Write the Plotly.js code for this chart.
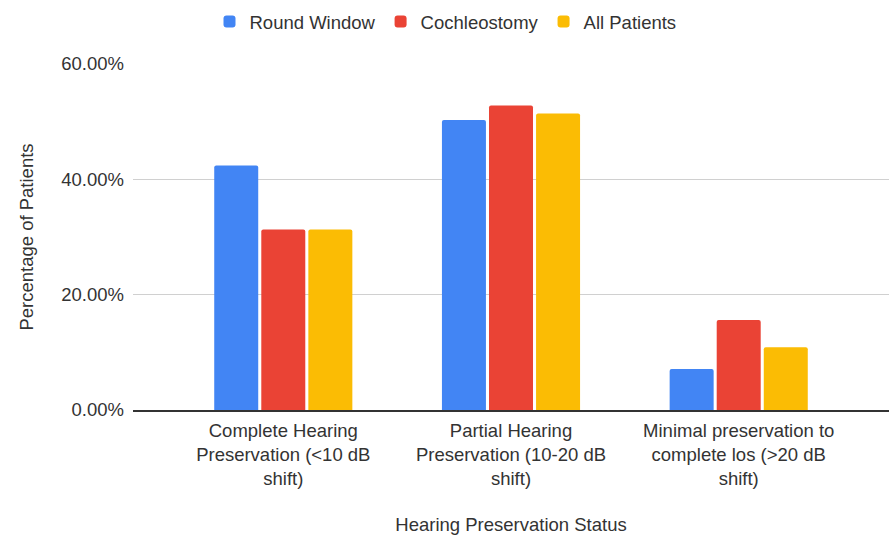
<!DOCTYPE html>
<html>
<head>
<meta charset="utf-8">
<script src="https://cdn.plot.ly/plotly-3.0.1.min.js"></script>
<style>html,body{margin:0;padding:0;background:#fff;}#chart{width:891px;height:535px;}</style>
</head>
<body>
<div id="chart"></div>
<script>
const categories = [
  "Complete Hearing<br>Preservation (&lt;10 dB<br>shift)",
  "Partial Hearing<br>Preservation (10-20 dB<br>shift)",
  "Minimal preservation to<br>complete los (&gt;20 dB<br>shift)"
];
const seriesNames = ["Round Window", "Cochleostomy", "All Patients"];
const roundWindow = [42.4, 50.3, 7.1];
const cochleostomy = [31.3, 52.8, 15.6];
const allPatients = [31.3, 51.4, 10.9];
const yTicks = [0, 20, 40, 60];
const yTickText = ["0.00%", "20.00%", "40.00%", "60.00%"];
const colors = ["#4285F4", "#EA4335", "#FBBC04"];

const font = "Arial, 'Liberation Sans', sans-serif";
const series = [roundWindow, cochleostomy, allPatients];
const traces = series.map((vals, i) => ({
  type: "bar",
  name: seriesNames[i],
  x: categories,
  y: vals,
  marker: {color: colors[i], cornerradius: 2},
  hoverinfo: "x+y+name"
}));

const layout = {
  width: 891,
  height: 535,
  paper_bgcolor: "#fff",
  plot_bgcolor: "#fff",
  font: {family: font, size: 18.5, color: "#333"},
  margin: {l: 133, r: 2, t: 64, b: 125},
  barmode: "group",
  bargap: 0.38,
  bargroupgap: 0.065,
  showlegend: true,
  legend: {
    orientation: "h",
    xref: "container", yref: "container",
    x: 0.5, xanchor: "center",
    y: 0.959, yanchor: "middle",
    font: {family: font, size: 18.5, color: "#333"},
    itemclick: false
  },
  xaxis: {
    type: "category",
    range: [-0.66, 2.66],
    showgrid: false,
    showline: true,
    linecolor: "#333",
    linewidth: 1.5,
    ticks: "",
    ticklabelstandoff: 3,
    tickfont: {family: font, size: 18.5, color: "#333"},
    title: {text: "Hearing Preservation Status", font: {family: font, size: 18.5, color: "#333"}, standoff: 32}
  },
  yaxis: {
    range: [0, 60],
    tickmode: "array",
    tickvals: yTicks,
    ticktext: yTickText,
    showgrid: true,
    gridcolor: "#d0d0d0",
    gridwidth: 1,
    zeroline: false,
    showline: false,
    ticks: "",
    ticklabelstandoff: 8,
    tickfont: {family: font, size: 18.5, color: "#333"},
    title: {text: "Percentage of Patients", font: {family: font, size: 18.5, color: "#333"}, standoff: 22}
  }
};

Plotly.newPlot("chart", traces, layout, {displayModeBar: false});
</script>
</body>
</html>
